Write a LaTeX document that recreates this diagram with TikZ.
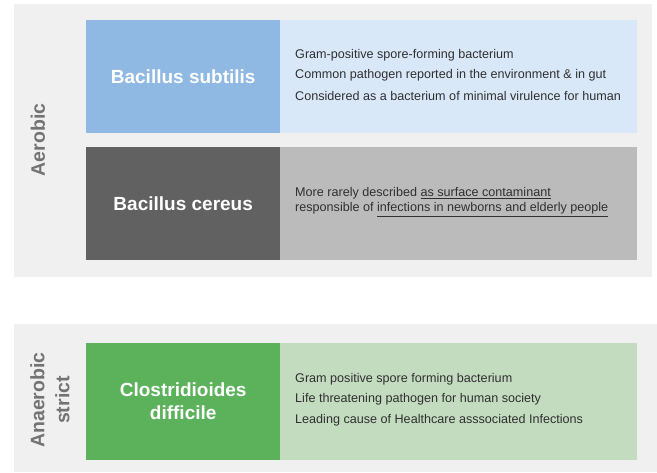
\documentclass[tikz,border=0pt]{standalone}
\usepackage{fontspec}
\setmainfont{Liberation Sans}
\newcommand\myul[1]{\underline{#1}}
\definecolor{panel}{HTML}{F0F0F0}
\definecolor{bluehead}{HTML}{8FB8E2}
\definecolor{bluebody}{HTML}{D9E8F8}
\definecolor{greyhead}{HTML}{616161}
\definecolor{greybody}{HTML}{BBBBBB}
\definecolor{greenhead}{HTML}{5BB25A}
\definecolor{greenbody}{HTML}{C3DCBF}
\definecolor{sidetext}{HTML}{737373}
\definecolor{bodytext}{HTML}{303030}
\tikzset{
  headbox/.style={minimum width=194pt, minimum height=113pt, inner sep=0pt, anchor=north west,
    text=white, font=\fontsize{19}{23}\selectfont\bfseries, align=center},
  bodybox/.style={minimum width=357pt, minimum height=113pt, inner sep=0pt, anchor=north west},
  bodytxt/.style={anchor=west, inner sep=0pt, text=bodytext, font=\fontsize{12.6}{15}\selectfont, align=left},
  sidelbl/.style={rotate=90, text=sidetext, font=\fontsize{19.5}{25}\selectfont\bfseries, align=center, inner sep=0pt}
}
\begin{document}
\begin{tikzpicture}[x=1pt,y=-1pt]
\useasboundingbox (0,0) rectangle (657,472);
% panels
\fill[panel] (14,4) rectangle (652,277);
\fill[panel] (14,324) rectangle (657,472);
% top group
\node[headbox, fill=bluehead] (bs) at (86,20) {Bacillus subtilis};
\node[bodybox, fill=bluebody] (bsb) at (280,20) {};
\node[headbox, fill=greyhead] (bc) at (86,147) {Bacillus cereus};
\node[bodybox, fill=greybody] (bcb) at (280,147) {};
\node[headbox, fill=greenhead, minimum height=117pt] (cd) at (86,343) {Clostridioides\\difficile};
\node[bodybox, fill=greenbody, minimum height=117pt] (cdb) at (280,343) {};
% texts
\node[bodytxt] (t1) at (295,55) {Gram-positive spore-forming bacterium};
\node[bodytxt] (t2) at (295,75) {Common pathogen reported in the environment \& in gut};
\node[bodytxt] (t3) at (295,96) {Considered as a bacterium of minimal virulence for human};
\node[bodytxt] (t4) at (295,202) {More rarely described \myul{as surface contaminant}\\responsible of \myul{infections in newborns and elderly people}};
\node[bodytxt] (t5) at (295,379) {Gram positive spore forming bacterium};
\node[bodytxt] (t6) at (295,399) {Life threatening pathogen for human society};
\node[bodytxt] (t7) at (295,420) {Leading cause of Healthcare asssociated Infections};
% side labels
\node[sidelbl] (aer) at (38,140) {Aerobic};
\node[sidelbl] (ana) at (50,400) {Anaerobic\\strict};
\end{tikzpicture}
\end{document}
